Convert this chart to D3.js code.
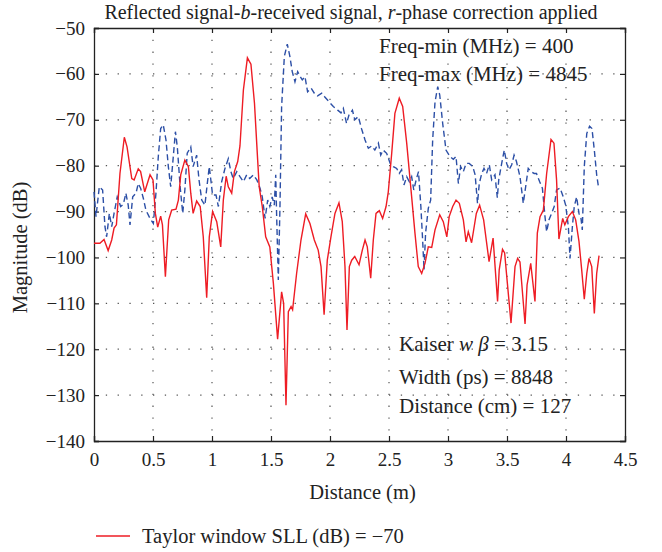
<!DOCTYPE html>
<meta charset="utf-8" />
<style>
  body { margin: 0; background: #fff; }
  svg text { font-family: "Liberation Serif", serif; fill: #222; }
</style>
<body>
  <script src="https://d3js.org/d3.v7.min.js"></script>
  <script>
    // red curve: Taylor window (solid)
    const redDist = [0,0.05,0.085,0.12,0.15,0.17,0.19,0.22,0.257,0.28,0.32,0.34,0.375,0.395,0.43,0.475,0.5,0.52,0.54,0.565,0.58,0.605,0.633,0.658,0.695,0.715,0.735,0.77,0.8,0.82,0.84,0.87,0.9,0.926,0.955,0.977,1.005,1.04,1.074,1.096,1.12,1.138,1.167,1.19,1.218,1.237,1.266,1.3,1.33,1.36,1.387,1.4,1.426,1.455,1.49,1.52,1.556,1.59,1.607,1.627,1.647,1.67,1.683,1.717,1.754,1.794,1.83,1.867,1.9,1.924,1.95,1.977,2.008,2.042,2.076,2.104,2.127,2.144,2.164,2.184,2.21,2.246,2.274,2.297,2.316,2.345,2.367,2.39,2.418,2.446,2.475,2.494,2.523,2.55,2.587,2.616,2.65,2.692,2.72,2.748,2.777,2.805,2.833,2.862,2.89,2.93,2.96,2.99,3.01,3.04,3.068,3.096,3.13,3.153,3.172,3.2,3.24,3.268,3.302,3.348,3.382,3.42,3.434,3.462,3.48,3.503,3.534,3.568,3.59,3.61,3.653,3.67,3.701,3.737,3.757,3.78,3.808,3.836,3.873,3.898,3.92,3.94,3.972,3.99,4.02,4.054,4.082,4.11,4.133,4.155,4.176,4.195,4.218,4.24,4.26,4.28];
    const redMag = [-96.9,-96.9,-96.1,-98.5,-96.2,-93.6,-92.9,-81.7,-73.8,-75.9,-82.8,-83.1,-80.7,-81.3,-85.7,-82.0,-83.1,-90.4,-93.4,-91.0,-92.9,-104.2,-91.8,-89.7,-89.5,-87.5,-82.0,-78.8,-80.2,-86.0,-90.4,-87.7,-88.9,-95.5,-108.8,-95.5,-90.0,-92.2,-97.7,-87.5,-82.3,-84.6,-86.0,-81.3,-79.1,-75.7,-63.5,-56.5,-57.9,-66.4,-78.8,-84.6,-88.9,-95.5,-97.7,-105.6,-117.8,-107.5,-110.0,-132.2,-111.8,-110.7,-111.4,-103.5,-96.2,-90.5,-92.6,-96.2,-98.4,-102.0,-112.5,-100.6,-95.5,-90.4,-88.1,-92.2,-102.0,-115.8,-102.0,-100.6,-99.8,-101.6,-98.4,-96.2,-97.7,-104.5,-96.2,-90.4,-89.8,-91.5,-88.9,-85.7,-77.3,-68.6,-65.3,-67.1,-75.1,-86.8,-94.7,-102.0,-103.5,-101.3,-97.7,-97.8,-94.0,-90.7,-92.2,-95.5,-91.1,-88.9,-87.5,-88.2,-91.8,-96.6,-94.4,-96.8,-90.4,-88.6,-91.8,-100.9,-95.8,-109.6,-102.7,-98.2,-99.0,-105.6,-114.3,-102.0,-100.2,-101.0,-114.5,-106.0,-101.3,-109.6,-94.7,-91.1,-89.7,-81.7,-74.3,-75.1,-83.1,-96.0,-91.5,-92.9,-91.1,-90.0,-91.8,-96.5,-102.7,-109.1,-103.5,-100.2,-102.0,-112.2,-103.5,-99.6];

    // blue curve (dashed)
    const blueDist = [0,0.017,0.045,0.073,0.093,0.107,0.13,0.15,0.17,0.197,0.226,0.249,0.27,0.29,0.305,0.328,0.356,0.375,0.395,0.418,0.44,0.475,0.503,0.525,0.545,0.565,0.587,0.61,0.63,0.65,0.672,0.69,0.706,0.73,0.752,0.77,0.79,0.82,0.84,0.87,0.89,0.913,0.94,0.96,0.977,1.005,1.034,1.054,1.082,1.11,1.138,1.16,1.18,1.21,1.237,1.266,1.294,1.32,1.35,1.38,1.407,1.426,1.45,1.472,1.49,1.51,1.528,1.54,1.548,1.562,1.576,1.59,1.613,1.638,1.66,1.68,1.703,1.726,1.746,1.765,1.788,1.81,1.84,1.867,1.895,1.93,1.958,2.0,2.028,2.065,2.093,2.113,2.14,2.16,2.19,2.21,2.24,2.268,2.297,2.325,2.353,2.38,2.41,2.43,2.45,2.48,2.51,2.537,2.565,2.587,2.607,2.627,2.65,2.672,2.692,2.71,2.73,2.75,2.77,2.785,2.797,2.81,2.833,2.853,2.87,2.89,2.913,2.93,2.955,2.983,3.017,3.045,3.068,3.088,3.107,3.13,3.153,3.18,3.21,3.23,3.25,3.265,3.286,3.305,3.327,3.35,3.37,3.398,3.418,3.43,3.455,3.477,3.497,3.517,3.54,3.56,3.58,3.61,3.638,3.658,3.68,3.703,3.73,3.75,3.777,3.8,3.822,3.836,3.856,3.878,3.9,3.92,3.95,3.977,3.997,4.02,4.034,4.054,4.07,4.09,4.11,4.127,4.138,4.155,4.176,4.2,4.22,4.24,4.26,4.275];
    const blueMag = [-85.7,-91.1,-84.6,-85.3,-93.3,-95.5,-90.4,-93.3,-90.4,-86.8,-88.9,-88.4,-86.0,-88.6,-92.9,-86.8,-86.0,-83.9,-84.9,-87.1,-89.7,-91.5,-92.6,-86.0,-78.0,-71.9,-71.1,-74.4,-80.2,-84.6,-78.0,-72.6,-75.9,-84.6,-90.4,-85.3,-77.3,-75.9,-80.2,-77.7,-83.1,-87.5,-88.6,-83.9,-80.2,-86.4,-86.4,-88.9,-83.5,-80.6,-78.5,-81.3,-82.8,-81.3,-82.4,-83.5,-82.0,-82.8,-82.0,-83.1,-84.9,-86.8,-91.5,-87.5,-88.9,-86.8,-88.6,-82.0,-91.1,-104.9,-88.9,-67.1,-56.2,-53.5,-56.2,-59.5,-61.7,-59.5,-60.5,-61.3,-60.6,-63.9,-63.1,-64.2,-64.8,-64.2,-65.1,-66.3,-67.1,-67.9,-68.5,-67.5,-70.8,-69.0,-67.9,-70.0,-69.3,-72.0,-74.4,-76.2,-75.7,-76.6,-75.1,-77.7,-76.6,-77.3,-79.5,-80.2,-80.6,-81.7,-80.9,-84.2,-82.4,-83.5,-82.4,-85.3,-83.1,-81.3,-88.9,-96.2,-102.7,-94.7,-89.3,-87.5,-74.4,-66.1,-62.8,-64.6,-70.8,-76.6,-78.0,-78.6,-78.0,-83.9,-80.2,-81.3,-79.5,-79.5,-80.2,-82.0,-88.2,-83.9,-81.7,-80.6,-81.7,-79.8,-83.1,-82.0,-87.0,-83.1,-79.5,-76.6,-79.5,-80.9,-79.8,-77.7,-79.1,-82.4,-88.2,-84.6,-80.6,-81.3,-81.7,-81.7,-83.5,-84.9,-91.1,-94.4,-91.8,-90.4,-88.9,-85.3,-84.9,-86.8,-88.6,-93.3,-100.2,-93.3,-88.9,-86.8,-90.4,-91.5,-94.0,-80.2,-73.0,-71.4,-71.9,-76.6,-82.0,-84.6];

    const xTicks = [0, 0.5, 1, 1.5, 2, 2.5, 3, 3.5, 4, 4.5];
    const yTicks = [-50, -60, -70, -80, -90, -100, -110, -120, -130, -140];

    const margin = { top: 28, right: 37, bottom: 111, left: 94 },
      W = 662, H = 552,
      width = W - margin.left - margin.right,
      height = H - margin.top - margin.bottom;

    const svg = d3.select("body").append("svg")
      .attr("width", W).attr("height", H);

    const g = svg.append("g")
      .attr("transform", "translate(" + margin.left + "," + margin.top + ")");

    const x = d3.scaleLinear().domain([0, 4.5]).range([0, width]);
    const y = d3.scaleLinear().domain([-140, -50]).range([height, 0]);

    // dotted grid
    g.append("g").selectAll("line").data(xTicks.slice(1, -1)).join("line")
      .attr("x1", d => x(d)).attr("x2", d => x(d))
      .attr("y1", 0).attr("y2", height)
      .attr("stroke", "#555").attr("stroke-width", 1.2)
      .attr("stroke-dasharray", "1.3,10.5");
    g.append("g").selectAll("line").data(yTicks.slice(1, -1)).join("line")
      .attr("y1", d => y(d)).attr("y2", d => y(d))
      .attr("x1", 0).attr("x2", width)
      .attr("stroke", "#555").attr("stroke-width", 1.2)
      .attr("stroke-dasharray", "1.3,10.5");

    // axes with inside ticks
    const fmtX = d => String(d);
    const xAxis = g.append("g").attr("transform", "translate(0," + height + ")")
      .call(d3.axisBottom(x).tickValues(xTicks).tickSize(-5).tickPadding(12).tickFormat(fmtX));
    const yAxis = g.append("g")
      .call(d3.axisLeft(y).tickValues(yTicks).tickSize(-5).tickPadding(9));
    g.append("g").call(d3.axisTop(x).tickValues(xTicks).tickSize(-5).tickFormat(""));
    g.append("g").attr("transform", "translate(" + width + ",0)")
      .call(d3.axisRight(y).tickValues(yTicks).tickSize(-5).tickFormat(""));

    g.selectAll(".domain").attr("stroke", "#222").attr("stroke-width", 1.3);
    g.selectAll(".tick line").attr("stroke", "#222").attr("stroke-width", 1.2);
    [xAxis, yAxis].forEach(a => a.selectAll("text")
      .style("font-family", "'Liberation Serif', serif")
      .style("font-size", "19px").attr("fill", "#222"));

    // curves
    const line = d3.line().x(d => x(d[0])).y(d => y(d[1]));

    g.append("path")
      .datum(blueDist.map((d, i) => [d, blueMag[i]]))
      .attr("fill", "none").attr("stroke", "#2c4fa6").attr("stroke-width", 1.4)
      .attr("stroke-dasharray", "6,3.5")
      .attr("d", line);

    g.append("path")
      .datum(redDist.map((d, i) => [d, redMag[i]]))
      .attr("fill", "none").attr("stroke", "#ee1c24").attr("stroke-width", 1.4)
      .attr("d", line);

    // titles
    const title = svg.append("text").attr("x", 351).attr("y", 19)
      .attr("text-anchor", "middle").style("font-size", "20px");
    title.append("tspan").text("Reflected signal-");
    title.append("tspan").style("font-style", "italic").text("b");
    title.append("tspan").text("-received signal, ");
    title.append("tspan").style("font-style", "italic").text("r");
    title.append("tspan").text("-phase correction applied");

    svg.append("text").attr("x", margin.left + width / 2 + 3).attr("y", 499)
      .attr("text-anchor", "middle").style("font-size", "20.5px").text("Distance (m)");

    svg.append("text").attr("transform", "translate(27," + (margin.top + height / 2 + 13) + ") rotate(-90)")
      .attr("text-anchor", "middle").style("font-size", "20.5px").text("Magnitude (dB)");

    // annotations
    const ann = [
      { x: 379, y: 53, parts: [["Freq-min (MHz) = 400", false]] },
      { x: 379, y: 81, parts: [["Freq-max (MHz) = 4845", false]] },
      { x: 399, y: 351, parts: [["Kaiser ", false], ["w", true], [" ", false], ["β", true], [" = 3.15", false]] },
      { x: 399, y: 384, parts: [["Width (ps) = 8848", false]] },
      { x: 399, y: 413, parts: [["Distance (cm) = 127", false]] }
    ];
    ann.forEach(a => {
      const t = svg.append("text").attr("x", a.x).attr("y", a.y).style("font-size", "21px");
      a.parts.forEach(p => t.append("tspan").style("font-style", p[1] ? "italic" : "normal").text(p[0]));
    });

    // legend
    svg.append("line").attr("x1", 96).attr("x2", 130).attr("y1", 536).attr("y2", 536)
      .attr("stroke", "#ee1c24").attr("stroke-width", 1.4);
    svg.append("text").attr("x", 142).attr("y", 543).style("font-size", "20.5px")
      .text("Taylor window SLL (dB) = \u221270");
  </script>
</body>
